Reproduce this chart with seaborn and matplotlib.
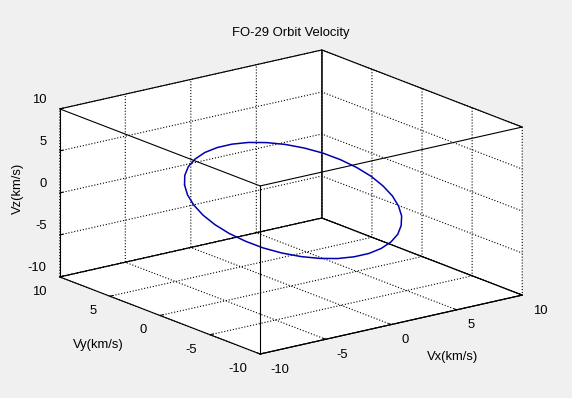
import numpy as np
import pandas as pd
import matplotlib
matplotlib.use("Agg")
import matplotlib.pyplot as plt
from matplotlib.transforms import offset_copy
import seaborn as sns

# FO-29 velocity over one revolution (km/s)
vx = [-3.24, -3.36, -3.38, -3.29, -3.10, -2.81, -2.44, -2.00, -1.49, -0.93,
      -0.35, 0.25, 0.84, 1.40, 1.93, 2.39, 2.79, 3.10, 3.32, 3.43,
      3.45, 3.36, 3.17, 2.89, 2.52, 2.07, 1.56, 1.01, 0.42, -0.18,
      -0.76, -1.33, -1.85, -2.32, -2.71, -3.02, -3.24]
vy = [6.39, 6.21, 5.83, 5.27, 4.55, 3.68, 2.70, 1.63, 0.51, -0.64,
      -1.77, -2.85, -3.84, -4.73, -5.48, -6.06, -6.47, -6.68, -6.70, -6.51,
      -6.14, -5.58, -4.85, -3.99, -3.00, -1.93, -0.81, 0.33, 1.46, 2.54,
      3.54, 4.43, 5.17, 5.76, 6.16, 6.38, 6.39]
vz = [0.24, 1.49, 2.71, 3.85, 4.89, 5.78, 6.50, 7.04, 7.36, 7.47,
      7.36, 7.04, 6.50, 5.78, 4.89, 3.85, 2.71, 1.49, 0.24, -1.02,
      -2.24, -3.38, -4.42, -5.31, -6.03, -6.57, -6.89, -7.00, -6.89, -6.57,
      -6.03, -5.31, -4.42, -3.38, -2.24, -1.02, 0.24]

ticks = [-10, -5, 0, 5, 10]
lim = (-10, 10)

df = pd.DataFrame({'vx': vx, 'vy': vy, 'vz': vz})

sns.set_style("white")
plt.rcParams['font.family'] = ['Liberation Sans', 'DejaVu Sans']
plt.rcParams['font.size'] = 9.4
plt.rcParams['axes.unicode_minus'] = False
plt.rcParams['text.color'] = 'black'
plt.rcParams['grid.color'] = 'black'
plt.rcParams['grid.linestyle'] = ':'
plt.rcParams['grid.linewidth'] = 0.8
plt.rcParams['axes.edgecolor'] = 'black'
plt.rcParams['xtick.color'] = 'black'
plt.rcParams['ytick.color'] = 'black'
plt.rcParams['axes.labelcolor'] = 'black'

bg = '#f0f0f0'
fig = plt.figure(figsize=(5.72, 3.98), dpi=100, facecolor=bg)
W = 484
ax = fig.add_axes([(291 - 0.5135 * W) / 572, (196 - 0.5135 * W) / 398, W / 572, W / 398],
                  projection='3d')
ax.set_proj_type('ortho')
ax.view_init(elev=17.1, azim=-127.4)
ax.set_box_aspect((1, 1, 0.533))
ax.patch.set_visible(False)

ax.plot(df['vx'], df['vy'], df['vz'], color='#0000b0', lw=1.1)

ax.set_xlim(lim)
ax.set_ylim(lim)
ax.set_zlim(lim)
ax.set_xticks(ticks)
ax.set_yticks(ticks)
ax.set_zticks(ticks)

for axis in (ax.xaxis, ax.yaxis, ax.zaxis):
    axis.set_pane_color((1, 1, 1, 1))
    axis.pane.set_edgecolor('black')
    axis.pane.set_linewidth(0.8)
    axis.line.set_color('black')
    axis.line.set_linewidth(0.8)
    axis._axinfo['grid'].update(color='black', linestyle=':', linewidth=0.8)
    axis._axinfo['tick']['inward_factor'] = 0.0
    axis._axinfo['tick']['outward_factor'] = 0.15
    axis.set_rotate_label(False)

# remaining front edges of the box
lo, hi = lim
ax.plot([lo, lo], [lo, lo], [lo, hi], color='black', lw=0.8)
ax.plot([lo, lo], [lo, hi], [hi, hi], color='black', lw=0.8)
ax.plot([lo, hi], [lo, lo], [hi, hi], color='black', lw=0.8)


# mplot3d resets tick label transforms every draw, so nudge them there
def nudge_ticklabels(axis, dx, dy, ha):
    get_ticks = axis.get_major_ticks

    def get_major_ticks(numticks=None):
        tks = get_ticks(numticks)
        for t in tks:
            t.label1.set_transform(offset_copy(ax.transData, fig=fig, x=dx, y=dy, units='dots'))
            t.label1.set_ha(ha)
        return tks
    axis.get_major_ticks = get_major_ticks


nudge_ticklabels(ax.xaxis, -2, 6, 'left')
nudge_ticklabels(ax.yaxis, 3.6, 5.5, 'right')
nudge_ticklabels(ax.zaxis, 16, 14, 'right')

ax.set_xlabel('Vx(km/s)', rotation=0)
ax.set_ylabel('Vy(km/s)', rotation=0)
ax.set_zlabel('Vz(km/s)', rotation=90)

# axis label positions are set in projected units on every draw
px = 0.185 / W


def nudge_label(axis, dx, dy):
    set_pos = axis.label.set_position
    axis.label.set_position = lambda xy: set_pos((xy[0] + dx * px, xy[1] + dy * px))


nudge_label(ax.xaxis, 34, 1)
nudge_label(ax.yaxis, -26, 1.5)
nudge_label(ax.zaxis, 22, 2.5)

fig.text(291 / 572, 1 - 33 / 398, 'FO-29 Orbit Velocity', ha='center', va='center')

plt.savefig('out.png', dpi=100, facecolor=bg)
